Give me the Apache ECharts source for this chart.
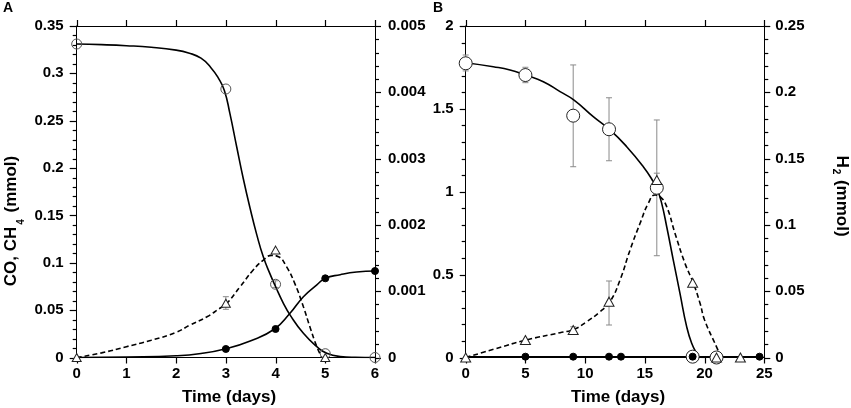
<!DOCTYPE html>
<html lang="en">
<head>
  <meta charset="UTF-8">
  <title>CO, CH4, H2</title>
  <script src="https://cdn.jsdelivr.net/npm/echarts@6/dist/echarts.min.js"></script>
  <style>
    html, body { margin: 0; padding: 0; background: #fff; }
    #chart { width: 851px; height: 408px; }
  </style>
</head>
<body>
<div id="chart"></div>
<script>
  // ---- panel A : measured points ----
  var daysA_CO = [0, 3, 4, 5, 6];
  var coA = [0.331, 0.2835, 0.0773, 0.004, 0];
  var daysA_H2 = [0, 3, 4, 5];
  var h2A = [0, 0.000817, 0.00162, 0];
  var daysA_CH4 = [3, 4, 5, 6];
  var ch4A = [0.009, 0.0301, 0.0836, 0.0913];
  // error bars [day, low, high]
  var errA_CO = [[4, 0.074, 0.081]];
  var errA_H2 = [[3, 0.000727, 0.000917]];

  // ---- panel A : fitted curves ----
  var coFitA_x = [0, 0.5, 1, 1.5, 2, 2.25, 2.5, 2.7, 2.85, 2.97, 3.08, 3.22, 3.35, 3.49, 3.62, 3.755, 3.89, 3.99, 4.16, 4.29, 4.56, 4.83, 5.03, 5.3, 5.6, 6];
  var coFitA_y = [0.331, 0.3303, 0.3292, 0.3275, 0.3245, 0.3215, 0.316, 0.306, 0.295, 0.282, 0.258, 0.222, 0.189, 0.157, 0.130, 0.106, 0.088, 0.076, 0.057, 0.045, 0.0255, 0.0114, 0.0044, 0.001, 0.0002, 0];
  var h2FitA_x = [0, 0.5, 1, 1.5, 2, 2.28, 2.62, 2.88, 3.0, 3.29, 3.55, 3.755, 3.92, 4.06, 4.22, 4.39, 4.56, 4.69, 4.83, 4.93];
  var h2FitA_y = [0, 0.00007, 0.000163, 0.00026, 0.00038, 0.00049, 0.000614, 0.000743, 0.0008, 0.00107, 0.00132, 0.00147, 0.00154, 0.00152, 0.00137, 0.00111, 0.000766, 0.000464, 0.000163, 0];
  var ch4FitA_x = [0, 1, 2, 2.5, 2.98, 3.49, 3.98, 4.29, 4.56, 4.83, 5.0, 5.3, 5.63, 6];
  var ch4FitA_y = [0, 0.0005, 0.0018, 0.0042, 0.009, 0.0175, 0.0301, 0.0467, 0.0642, 0.0766, 0.0836, 0.0874, 0.0902, 0.0913];

  // ---- panel B : measured points ----
  var daysB_CO = [0, 5, 9, 12, 16, 19, 21];
  var coB = [1.775, 1.704, 1.459, 1.377, 1.024, 0.005, 0];
  var daysB_H2 = [0, 5, 9, 12, 16, 19, 21, 23];
  var h2B = [0, 0.0132, 0.0207, 0.0421, 0.1339, 0.0564, 0, 0];
  var daysB_CH4 = [5, 9, 12, 13, 19, 24.6];
  var ch4B = [0.005, 0.005, 0.005, 0.005, 0.005, 0.005];
  var errB_CO = [[0, 1.729, 1.825], [5, 1.658, 1.751], [9, 1.151, 1.765], [12, 1.187, 1.567], [16, 0.614, 1.433]];
  var errB_H2 = [[9, 0.0183, 0.0232], [12, 0.0245, 0.0577], [16, 0.128, 0.139]];

  // ---- panel B : fitted curves ----
  var coFitB_x = [0, 2.31, 3.71, 5.02, 6.5, 7.9, 9.07, 10.68, 12.08, 13.48, 14.87, 15.71, 16.04, 16.41, 16.83, 17.38, 17.94, 18.5, 18.92, 19.34, 19.6, 20];
  var coFitB_y = [1.778, 1.754, 1.735, 1.704, 1.664, 1.604, 1.553, 1.453, 1.373, 1.272, 1.151, 1.061, 1.015, 0.930, 0.789, 0.588, 0.387, 0.186, 0.086, 0.025, 0.003, 0];
  var h2FitB_x = [0, 2.5, 5.05, 7.9, 9.07, 10.13, 11.24, 12.08, 12.92, 13.76, 14.6, 15.29, 15.85, 16.27, 16.83, 17.52, 18.36, 19.06, 19.62, 20, 21, 21.4];
  var h2FitB_y = [0, 0.0066, 0.0132, 0.0187, 0.0213, 0.027, 0.0345, 0.0421, 0.0584, 0.0811, 0.1012, 0.1163, 0.1225, 0.1213, 0.1137, 0.0937, 0.071, 0.056, 0.0409, 0.0283, 0.008, 0];
  var ch4FitB_x = [0, 24.6];
  var ch4FitB_y = [0.004, 0.004];

  // ---- tick positions ----
  var xTicksA = [0, 1, 2, 3, 4, 5, 6];
  var xTicksB = [0, 5, 10, 15, 20, 25];
  var yMajA_L = [0, 0.05, 0.1, 0.15, 0.2, 0.25, 0.3, 0.35];
  var yMinA_L = [0.01, 0.02, 0.03, 0.04, 0.06, 0.07, 0.08, 0.09, 0.11, 0.12, 0.13, 0.14, 0.16, 0.17, 0.18, 0.19,
                 0.21, 0.22, 0.23, 0.24, 0.26, 0.27, 0.28, 0.29, 0.31, 0.32, 0.33, 0.34];
  var yMajA_R = [0, 0.001, 0.002, 0.003, 0.004, 0.005];
  var yMinA_R = [0.0002, 0.0004, 0.0006, 0.0008, 0.0012, 0.0014, 0.0016, 0.0018, 0.0022, 0.0024, 0.0026, 0.0028,
                 0.0032, 0.0034, 0.0036, 0.0038, 0.0042, 0.0044, 0.0046, 0.0048];
  var yMajB_L = [0, 0.5, 1, 1.5, 2];
  var yMinB_L = [0.1, 0.2, 0.3, 0.4, 0.6, 0.7, 0.8, 0.9, 1.1, 1.2, 1.3, 1.4, 1.6, 1.7, 1.8, 1.9];
  var yMajB_R = [0, 0.05, 0.1, 0.15, 0.2, 0.25];
  var yMinB_R = [0.01, 0.02, 0.03, 0.04, 0.06, 0.07, 0.08, 0.09, 0.11, 0.12, 0.13, 0.14, 0.16, 0.17, 0.18, 0.19,
                 0.21, 0.22, 0.23, 0.24];

  var FONT = "'Liberation Sans', Arial, Helvetica, sans-serif";

  function zip(xs, ys) {
    return xs.map(function (x, i) { return [x, ys[i]]; });
  }

  function xAx(grid, pos, max, step, labels) {
    return {
      type: 'value', gridIndex: grid, position: pos, min: 0, max: max, interval: step,
      axisLine: { show: true, onZero: false, lineStyle: { color: '#000', width: 1 } },
      axisTick: { show: false },
      axisLabel: { show: labels, margin: 9, color: '#000', fontSize: 15, fontWeight: 'bold', fontFamily: FONT },
      splitLine: { show: false }
    };
  }
  function yAx(grid, pos, max, step, margin) {
    return {
      type: 'value', gridIndex: grid, position: pos, min: 0, max: max, interval: step,
      axisLine: { show: true, onZero: false, lineStyle: { color: '#000', width: 1 } },
      axisTick: { show: false },
      axisLabel: { margin: margin, color: '#000', fontSize: 15, fontWeight: 'bold', fontFamily: FONT },
      splitLine: { show: false }
    };
  }

  // tick marks placed through the axes' own coordinate mapping
  // pts: [x, y] on the axis line, (dx, dy): direction and length of the mark
  function tickMarks(xi, yi, pts, dx, dy) {
    return {
      type: 'custom', xAxisIndex: xi, yAxisIndex: yi, data: pts, z: 1, silent: true, clip: false,
      renderItem: function (params, api) {
        var p = api.coord([api.value(0), api.value(1)]);
        var x = dx === 0 ? Math.round(p[0]) + 0.5 : p[0];
        var y = dy === 0 ? Math.round(p[1]) + 0.5 : p[1];
        return {
          type: 'line',
          shape: { x1: x, y1: y, x2: x + dx, y2: y + dy },
          style: { stroke: '#000', lineWidth: 1.2 }
        };
      }
    };
  }
  function onX(vals, y) { return vals.map(function (v) { return [v, y]; }); }
  function onY(vals, x) { return vals.map(function (v) { return [x, v]; }); }

  function fitLine(xi, yi, xs, ys, dashed) {
    return {
      type: 'line', xAxisIndex: xi, yAxisIndex: yi, data: zip(xs, ys),
      showSymbol: false, smooth: 0.5, z: 3, silent: true,
      lineStyle: { color: '#000', width: 1.6, type: dashed ? [5, 3] : 'solid' }
    };
  }
  function marks(xi, yi, xs, ys, symbol, size, fill, stroke) {
    return {
      type: 'scatter', xAxisIndex: xi, yAxisIndex: yi, data: zip(xs, ys),
      symbol: symbol, symbolSize: size, z: 5, silent: true,
      itemStyle: { color: fill, borderColor: stroke, borderWidth: 1, opacity: 1 }
    };
  }
  function errBars(xi, yi, rows) {
    return {
      type: 'custom', xAxisIndex: xi, yAxisIndex: yi, data: rows, z: 2, silent: true,
      encode: { x: 0, y: [1, 2] },
      renderItem: function (params, api) {
        var top = api.coord([api.value(0), api.value(2)]);
        var bot = api.coord([api.value(0), api.value(1)]);
        var w = 3;
        var st = { stroke: '#8a8a8a', lineWidth: 1 };
        return {
          type: 'group',
          children: [
            { type: 'line', shape: { x1: top[0], y1: top[1], x2: bot[0], y2: bot[1] }, style: st },
            { type: 'line', shape: { x1: top[0] - w, y1: top[1], x2: top[0] + w, y2: top[1] }, style: st },
            { type: 'line', shape: { x1: bot[0] - w, y1: bot[1], x2: bot[0] + w, y2: bot[1] }, style: st }
          ]
        };
      }
    };
  }

  var chart = echarts.init(document.getElementById('chart'), null, { renderer: 'canvas' });

  var option = {
    animation: false,
    backgroundColor: '#fff',
    grid: [
      { left: 76.7, top: 26, width: 298.3, height: 331.5 },
      { left: 465.7, top: 26, width: 298.6, height: 331.5 }
    ],
    xAxis: [
      xAx(0, 'bottom', 6, 1, true),
      xAx(0, 'top', 6, 1, false),
      xAx(1, 'bottom', 25, 5, true),
      xAx(1, 'top', 25, 5, false)
    ],
    yAxis: [
      yAx(0, 'left', 0.35, 0.05, 13),
      yAx(0, 'right', 0.005, 0.001, 13),
      yAx(1, 'left', 2, 0.5, 12),
      yAx(1, 'right', 0.25, 0.05, 11)
    ],
    series: [
      // ticks, panel A
      tickMarks(0, 0, onX(xTicksA, 0), 0, 6),
      tickMarks(0, 0, onX(xTicksA, 0.35), 0, -6),
      tickMarks(0, 0, onY(yMajA_L, 0), -7, 0),
      tickMarks(0, 0, onY(yMinA_L, 0), -4, 0),
      tickMarks(0, 1, onY(yMajA_R, 6), 6, 0),
      tickMarks(0, 1, onY(yMinA_R, 6), 4, 0),
      // ticks, panel B
      tickMarks(2, 2, onX(xTicksB, 0), 0, 6),
      tickMarks(2, 2, onX(xTicksB, 2), 0, -6),
      tickMarks(2, 2, onY(yMajB_L, 0), -6, 0),
      tickMarks(2, 2, onY(yMinB_L, 0), -4, 0),
      tickMarks(2, 3, onY(yMajB_R, 25), 6, 0),
      tickMarks(2, 3, onY(yMinB_R, 25), 4, 0),
      // panel A
      errBars(0, 0, errA_CO),
      errBars(0, 1, errA_H2),
      fitLine(0, 0, coFitA_x, coFitA_y, false),
      fitLine(0, 1, h2FitA_x, h2FitA_y, true),
      fitLine(0, 0, ch4FitA_x, ch4FitA_y, false),
      marks(0, 0, daysA_CH4, ch4A, 'circle', 7, '#000', '#000'),
      marks(0, 0, daysA_CO, coA, 'circle', 10, 'rgba(255,255,255,0)', '#555'),
      marks(0, 1, daysA_H2, h2A, 'triangle', [9, 8], '#fff', '#222'),
      // panel B
      errBars(2, 2, errB_CO),
      errBars(2, 3, errB_H2),
      fitLine(2, 2, coFitB_x, coFitB_y, false),
      fitLine(2, 3, h2FitB_x, h2FitB_y, true),
      fitLine(2, 2, ch4FitB_x, ch4FitB_y, false),
      marks(2, 2, daysB_CO, coB, 'circle', 13, '#fff', '#222'),
      marks(2, 2, daysB_CH4, ch4B, 'circle', 7, '#000', '#000'),
      marks(2, 3, daysB_H2, h2B, 'triangle', [10, 9], '#fff', '#222')
    ],
    graphic: [
      { type: 'text', x: 8, y: 8, style: { text: 'A', fill: '#000', font: 'bold 14px ' + FONT, align: 'center', verticalAlign: 'middle' } },
      { type: 'text', x: 438, y: 8, style: { text: 'B', fill: '#000', font: 'bold 14px ' + FONT, align: 'center', verticalAlign: 'middle' } },
      { type: 'text', x: 229, y: 397, style: { text: 'Time (days)', fill: '#000', font: 'bold 17px ' + FONT, align: 'center', verticalAlign: 'middle' } },
      { type: 'text', x: 618, y: 397, style: { text: 'Time (days)', fill: '#000', font: 'bold 17px ' + FONT, align: 'center', verticalAlign: 'middle' } },
      {
        type: 'text', x: 11, y: 221, rotation: Math.PI / 2,
        style: {
          text: '{a|CO, CH}{b|4}{a| (mmol)}', align: 'center', verticalAlign: 'middle',
          rich: {
            a: { fontSize: 17, fontWeight: 'bold', fontFamily: FONT, fill: '#000', verticalAlign: 'middle' },
            b: { fontSize: 10, fontWeight: 'bold', fontFamily: FONT, fill: '#000', verticalAlign: 'middle', padding: [20, 2, 0, 2] }
          }
        }
      },
      {
        type: 'text', x: 842, y: 196, rotation: -Math.PI / 2,
        style: {
          text: '{a|H}{b|2}{a| (mmol)}', align: 'center', verticalAlign: 'middle',
          rich: {
            a: { fontSize: 17, fontWeight: 'bold', fontFamily: FONT, fill: '#000', verticalAlign: 'middle' },
            b: { fontSize: 10, fontWeight: 'bold', fontFamily: FONT, fill: '#000', verticalAlign: 'middle', padding: [12, 1, 0, 1] }
          }
        }
      }
    ]
  };

  chart.setOption(option);
</script>
</body>
</html>
